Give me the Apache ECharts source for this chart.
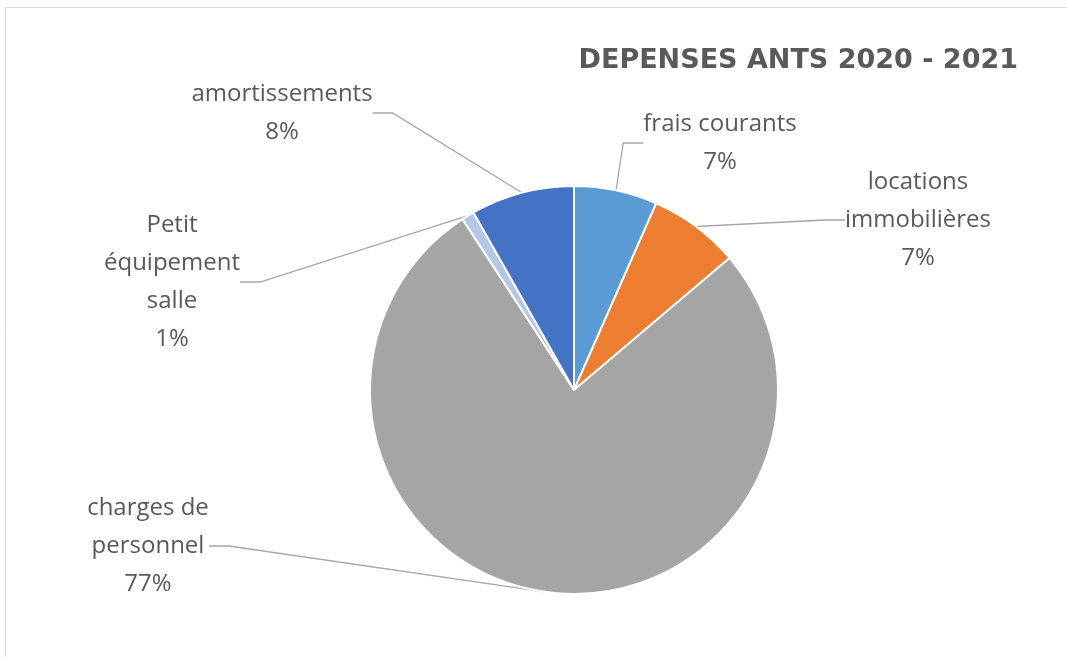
<!DOCTYPE html>
<html>
<head>
<meta charset="utf-8">
<script src="https://cdn.jsdelivr.net/npm/echarts@6/dist/echarts.min.js"></script>
<style>
  html, body { margin: 0; padding: 0; background: #fff; }
  #chart { width: 1067px; height: 657px; }
</style>
</head>
<body>
<div id="chart"></div>
<script>
  // data (share of total, %)
  const categories = ['frais courants', 'locations\nimmobilières', 'charges de\npersonnel', 'Petit\néquipement\nsalle', 'amortissements'];
  const values = [6.6, 7.2, 77.0, 1.0, 8.2];
  const colors = ['#5B9BD5', '#ED7D31', '#A5A5A5', '#B4C7E7', '#4472C4'];

  // where each data label sits (centre of text block)
  const labelPos = [[720, 143], [918, 220], [148, 546], [172, 282], [282, 113]];

  let chart = echarts.init(document.getElementById('chart'));
  let option = {
    backgroundColor: '#fff',
    animation: false,
    color: colors,
    title: {
      text: 'DEPENSES ANTS 2020 - 2021',
      right: 44,
      top: 42,
      textStyle: {
        fontFamily: 'DejaVu Sans',
        fontWeight: 'bold',
        fontSize: 27,
        color: '#595959'
      }
    },
    graphic: [{
      type: 'rect',
      shape: { x: 5.5, y: 7.5, width: 1100, height: 700 },
      style: { fill: 'none', stroke: '#d9d9d9', lineWidth: 1 },
      silent: true
    }],
    series: [{
      type: 'pie',
      center: [574, 390],
      radius: [0, 204],
      startAngle: 90,
      percentPrecision: 0,
      itemStyle: { borderColor: '#fff', borderWidth: 2 },
      label: {
        show: true,
        formatter: '{b}\n{d}%',
        fontFamily: 'Open Sans',
        fontSize: 24,
        lineHeight: 38,
        color: '#595959',
        align: 'center'
      },
      labelLine: {
        show: true,
        length: 20,
        length2: 20,
        lineStyle: { color: '#a6a6a6', width: 1.3 }
      },
      labelLayout: function (params) {
        let p = labelPos[params.dataIndex];
        return { x: p[0], y: p[1], align: 'center', verticalAlign: 'middle' };
      },
      data: categories.map((c, i) => ({ name: c, value: values[i] }))
    }]
  };
  chart.setOption(option);
  window.addEventListener('resize', function () {
    chart.resize();
  });
</script>
</body>
</html>
